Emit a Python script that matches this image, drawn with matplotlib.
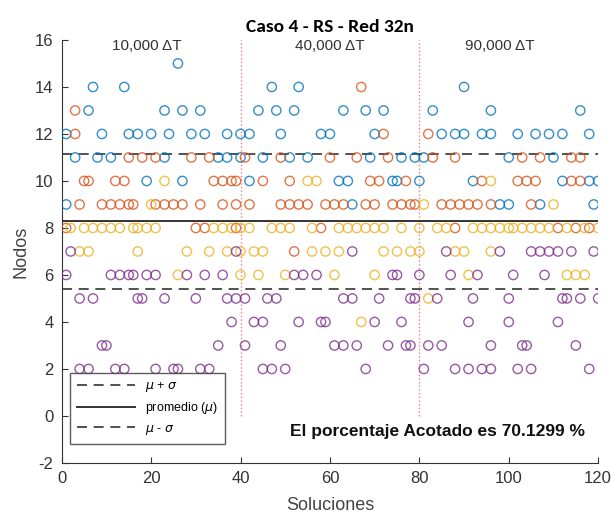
import matplotlib
matplotlib.use('Agg')
import matplotlib.pyplot as plt

# nodos por fila (y) -> soluciones (x)
blue_rows = {
    15: [26],
    14: [7, 14, 47, 53, 90],
    13: [6, 23, 27, 31, 44, 48, 52, 63, 68, 72, 83, 96, 116],
    12: [1, 9, 15, 17, 20, 24, 29, 32, 37, 40, 42, 49, 58, 60, 70, 85, 88, 90,
         94, 96, 102, 106, 109, 112, 118],
    11: [3, 8, 11, 23, 35, 37, 40, 45, 51, 55, 69, 76, 79, 81, 100, 110],
    10: [19, 27, 42, 62, 64, 74, 75, 80, 92, 112, 118, 120],
    9: [1, 65, 98, 100, 107, 119],
}
orange_rows = {
    14: [67],
    13: [3],
    12: [3, 72, 82],
    11: [15, 18, 21, 29, 33, 41, 49, 60, 66, 73, 83, 88, 103, 107, 114, 116],
    10: [5, 6, 12, 14, 34, 36, 38, 39, 45, 51, 69, 71, 77, 94, 102, 104, 106,
         114, 116],
    9: [4, 9, 11, 13, 15, 16, 21, 23, 25, 27, 31, 36, 39, 42, 49, 51, 53, 55,
        59, 61, 63, 68, 70, 74, 76, 78, 79, 85, 87, 89, 91, 93, 96, 105],
    8: [1, 30, 32, 39, 58, 88, 111, 115, 118],
    7: [52],
}
yellow_rows = {
    10: [23, 55, 57, 96],
    9: [20, 81, 110],
    8: [2, 5, 7, 9, 11, 13, 16, 17, 19, 21, 34, 36, 38, 40, 42, 47, 49, 51, 56,
        62, 64, 66, 68, 70, 72, 76, 80, 84, 86, 92, 94, 96, 98, 100, 101, 103,
        105, 107, 109, 113, 117, 120],
    7: [4, 6, 17, 28, 33, 37, 40, 43, 45, 56, 59, 62, 72, 75, 78, 80, 88, 90,
        96],
    6: [26, 40, 44, 50, 61, 70, 91, 113, 115, 117],
    5: [82],
    4: [67],
}
purple_rows = {
    7: [2, 39, 65, 86, 98, 105, 107, 109, 111, 114, 119],
    6: [1, 11, 13, 15, 16, 19, 21, 28, 32, 36, 52, 54, 57, 74, 75, 80, 87, 93,
        101, 108],
    5: [4, 7, 17, 18, 23, 30, 37, 39, 41, 46, 48, 63, 65, 71, 78, 79, 84, 92,
        100, 112, 113, 116, 120],
    4: [38, 43, 45, 53, 58, 59, 70, 76, 91, 100, 111],
    3: [9, 10, 35, 41, 49, 61, 63, 66, 73, 77, 78, 82, 85, 96, 103, 104, 115],
    2: [4, 6, 12, 14, 21, 25, 26, 31, 33, 45, 47, 50, 68, 81, 88, 91, 94, 96,
        102, 105, 118],
}

mu = 8.28
sigma = 2.88
porcentaje = 70.1299
cortes = [40, 80]
etiquetas_dt = ['10,000 ΔT', '40,000 ΔT', '90,000 ΔT']
pos_dt = [19, 60, 98]

series = [
    (blue_rows, '#0072BD'),
    (orange_rows, '#D95319'),
    (yellow_rows, '#EDB120'),
    (purple_rows, '#7E2F8E'),
]

plt.rcParams['font.family'] = ['Liberation Sans Narrow', 'Liberation Sans', 'DejaVu Sans']
plt.rcParams['axes.unicode_minus'] = False

fig = plt.figure(figsize=(6.11, 5.19), dpi=100)
ax = fig.add_axes([0.101, 0.108, 0.878, 0.815])

for rows, color in series:
    xs, ys = [], []
    for y, xlist in rows.items():
        xs += xlist
        ys += [y] * len(xlist)
    ax.scatter(xs, ys, s=45, facecolors='none', edgecolors=color, linewidths=1.0, alpha=0.8, zorder=3)

l1, = ax.plot([0, 120], [mu + sigma] * 2, '--', color='#333333', lw=1.2, dashes=(6, 4))
l2, = ax.plot([0, 120], [mu] * 2, '-', color='#333333', lw=1.4)
l3, = ax.plot([0, 120], [mu - sigma] * 2, '--', color='#333333', lw=1.2, dashes=(6, 4))

for xc in cortes:
    ax.plot([xc, xc], [0, 16], ':', color='#f08080', lw=1.0, zorder=1)

for lab, xp in zip(etiquetas_dt, pos_dt):
    ax.text(xp, 15.75, lab, ha='center', va='center', fontsize=11, color='#333333')

ax.text(84, -0.65, f'El porcentaje Acotado es {porcentaje} %', ha='center', va='center',
        fontsize=12.5, fontweight='bold', color='#111111')

ax.legend([l1, l2, l3], [r'$\mu$ + $\sigma$', r'promedio ($\mu$)', r'$\mu$ - $\sigma$'],
          loc='lower left', bbox_to_anchor=(0.003, 0.03), fontsize=9, frameon=True,
          fancybox=False, edgecolor='#333333', handlelength=4.6, borderpad=0.6,
          labelspacing=0.5)

ax.set_xlim(0, 120)
ax.set_ylim(-2, 16)
ax.set_xticks(range(0, 121, 20))
ax.set_yticks(range(-2, 17, 2))
ax.tick_params(direction='in', length=4, labelsize=12, colors='#333333', pad=6)
ax.spines['top'].set_visible(False)
ax.spines['right'].set_visible(False)
ax.spines['left'].set_color('#333333')
ax.spines['bottom'].set_color('#333333')
ax.set_xlabel('Soluciones', fontsize=13, color='#444444', labelpad=8)
ax.set_ylabel('Nodos', fontsize=13, color='#444444')
ax.set_title('Caso 4 - RS - Red 32n', fontsize=14, fontweight='bold',
             family=['Carlito', 'Liberation Sans', 'DejaVu Sans'], pad=6)

plt.savefig('out.png', dpi=100)
plt.close()
